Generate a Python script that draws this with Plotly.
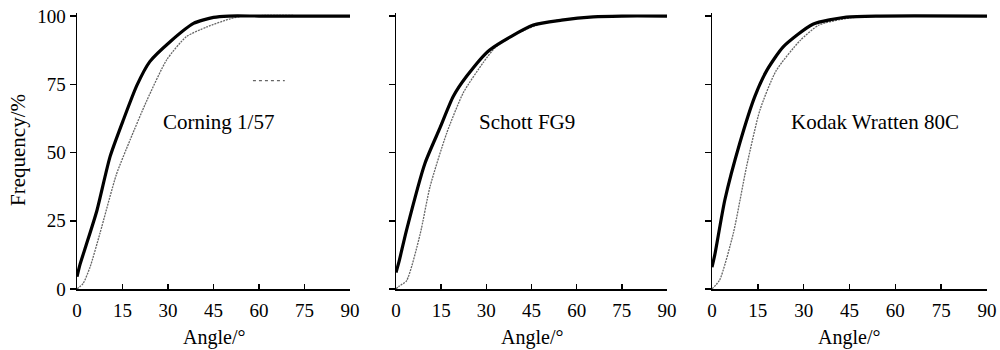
import plotly.graph_objects as go

# ---- data ----
panel_labels = ["Corning 1/57", "Schott FG9", "Kodak Wratten 80C"]
x_ticks = [0, 15, 30, 45, 60, 75, 90]
y_ticks = [0, 25, 50, 75, 100]

corning_thick_angle = [0, 1, 3, 6.5, 10.9, 15.3, 19.7, 24, 30.7, 38.4, 45, 50, 60, 90]
corning_thick_freq = [4.5, 9, 16, 28.5, 48.5, 62, 74.5, 83.3, 90.6, 97.3, 99.5, 100, 100, 100]
corning_dot_angle = [0, 2, 4.3, 7.6, 13, 17.5, 23, 29.6, 36, 42.8, 50.5, 55, 90]
corning_dot_freq = [0, 2, 8, 20.5, 42, 54.6, 69, 84, 92.4, 96, 99, 100, 100]

schott_thick_angle = [0, 1, 3.5, 9.6, 14.6, 19, 23.5, 31, 45.6, 55, 65.5, 75, 90]
schott_thick_freq = [6, 10, 21.6, 46, 59, 70.5, 78, 87.5, 96.7, 98.5, 99.7, 100, 100]
schott_dot_angle = [0, 1, 3.5, 8, 11.3, 16.8, 22.4, 29, 33, 40, 50, 65, 90]
schott_dot_freq = [0, 1, 3, 20, 37.5, 57, 72, 83, 88.5, 93.5, 97.8, 99.7, 100]

kodak_thick_angle = [0, 1, 4.2, 9.1, 14, 17.9, 23.3, 33, 44, 55, 90]
kodak_thick_freq = [8, 13, 32.6, 53.5, 70.5, 80, 88.7, 97, 99.6, 100, 100]
kodak_dot_angle = [0, 2.5, 7, 11.3, 15.7, 21, 28.8, 35, 45, 55, 90]
kodak_dot_freq = [0, 3.3, 20.5, 44.8, 65.6, 80, 91, 96.7, 99.3, 100, 100]

thick = [(corning_thick_angle, corning_thick_freq),
         (schott_thick_angle, schott_thick_freq),
         (kodak_thick_angle, kodak_thick_freq)]
dotted = [(corning_dot_angle, corning_dot_freq),
          (schott_dot_angle, schott_dot_freq),
          (kodak_dot_angle, kodak_dot_freq)]

FONT = "Liberation Serif, Times New Roman, serif"
DOT_STYLE = dict(color="#666666", width=1.3, dash="2px,1px")

fig = go.Figure()
x_domains = [[0.077, 0.350], [0.396, 0.667], [0.712, 0.987]]
y_domain = [1 - 289 / 350, 1 - 13.3 / 350]

for i in range(3):
    xa = "x" if i == 0 else f"x{i+1}"
    ya = "y" if i == 0 else f"y{i+1}"
    fig.add_trace(go.Scatter(x=dotted[i][0], y=dotted[i][1], mode="lines",
                             line=dict(**DOT_STYLE, shape="spline", smoothing=0.6),
                             xaxis=xa, yaxis=ya, showlegend=False, hoverinfo="skip"))
    fig.add_trace(go.Scatter(x=thick[i][0], y=thick[i][1], mode="lines",
                             line=dict(color="black", width=3.2, shape="spline", smoothing=0.6),
                             xaxis=xa, yaxis=ya, showlegend=False, hoverinfo="skip"))

layout = dict(
    template="none",
    width=1000, height=350,
    margin=dict(l=0, r=0, t=0, b=0, pad=0),
    paper_bgcolor="white", plot_bgcolor="white",
    font=dict(family=FONT, size=18, color="black"),
)
for i in range(3):
    xk = "xaxis" if i == 0 else f"xaxis{i+1}"
    yk = "yaxis" if i == 0 else f"yaxis{i+1}"
    layout[xk] = dict(domain=x_domains[i], range=[0, 90], tickvals=x_ticks,
                      ticks="inside", ticklen=5, tickwidth=1.5, tickcolor="black", showline=True,
                      linecolor="black", linewidth=1.5, showgrid=False, zeroline=False,
                      automargin=False, ticklabelstandoff=4,
                      anchor="y" if i == 0 else f"y{i+1}",
                      tickfont=dict(family=FONT, size=19), fixedrange=True)
    layout[yk] = dict(domain=y_domain, range=[0, 101], tickvals=y_ticks,
                      ticks="outside", ticklen=6, tickwidth=1.5, tickcolor="black", showline=True,
                      linecolor="black", linewidth=1.5, showgrid=False, zeroline=False,
                      showticklabels=(i == 0), automargin=False,
                      anchor="x" if i == 0 else f"x{i+1}",
                      tickfont=dict(family=FONT, size=19), fixedrange=True)
fig.update_layout(**layout)

annotations = []
label_pos = [(218, 122), (527, 122), (875, 122)]
for i, (px, py) in enumerate(label_pos):
    annotations.append(dict(text=panel_labels[i], x=px / 1000, y=1 - py / 350,
                            xref="paper", yref="paper", showarrow=False,
                            xanchor="center", yanchor="middle",
                            font=dict(family=FONT, size=21)))
for d in x_domains:
    cx = (d[0] + d[1]) / 2
    annotations.append(dict(text="Angle/°", x=cx, y=1 - 337 / 350, xref="paper", yref="paper",
                            showarrow=False, xanchor="center", yanchor="middle",
                            font=dict(family=FONT, size=20)))
annotations.append(dict(text="Frequency/%", x=18 / 1000, y=1 - 150 / 350, xref="paper",
                        yref="paper", showarrow=False, textangle=-90,
                        xanchor="center", yanchor="middle",
                        font=dict(family=FONT, size=21)))
fig.update_layout(annotations=annotations)

# short dotted key mark in first panel
fig.add_shape(type="line", x0=58, x1=68.5, y0=76.3, y1=76.3, xref="x", yref="y",
              line=dict(color="#666666", width=1.2, dash="dot"))

fig.write_html("out.html",
               config={"displayModeBar": False, "staticPlot": True},
               post_script="document.body.style.margin='0';document.body.style.overflow='hidden';")
